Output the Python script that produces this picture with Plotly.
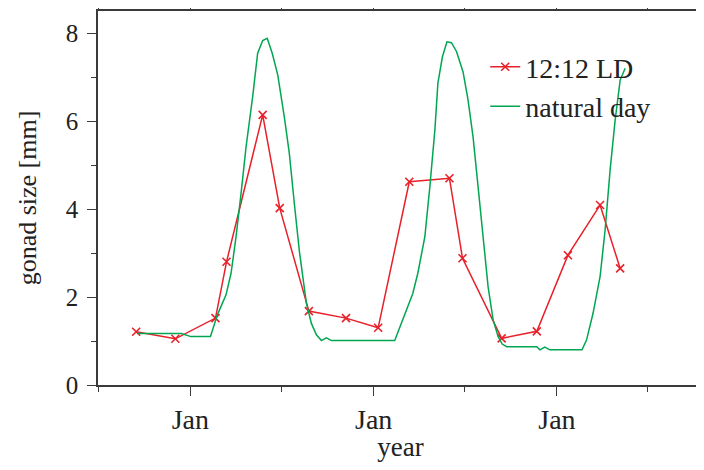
import plotly.graph_objects as go

# 12:12 LD (light-dark) sampled gonad size
ld_dates = [
    "2000-09-15", "2000-12-02", "2001-02-20", "2001-03-14", "2001-05-25",
    "2001-06-28", "2001-08-25", "2001-11-07", "2002-01-10", "2002-03-13",
    "2002-06-01", "2002-06-27", "2002-09-13", "2002-11-22", "2003-01-23",
    "2003-03-28", "2003-05-07",
]
ld_size = [
    1.21, 1.05, 1.52, 2.80, 6.14,
    4.02, 1.68, 1.52, 1.30, 4.62,
    4.70, 2.88, 1.06, 1.22, 2.95,
    4.09, 2.65,
]

# natural day gonad size
nat_dates = [
    "2000-09-17", "2000-12-14", "2001-01-02", "2001-02-10", "2001-02-24",
    "2001-03-13", "2001-03-23", "2001-04-02", "2001-04-12", "2001-04-22",
    "2001-05-05", "2001-05-15", "2001-05-25", "2001-06-03", "2001-06-13",
    "2001-06-24", "2001-07-07", "2001-07-17", "2001-07-27", "2001-08-06",
    "2001-08-20", "2001-08-30", "2001-09-09", "2001-09-19", "2001-09-29",
    "2001-10-09", "2002-02-12", "2002-02-28", "2002-03-20", "2002-03-30",
    "2002-04-13", "2002-04-23", "2002-05-03", "2002-05-09", "2002-05-18",
    "2002-05-27", "2002-06-05", "2002-06-15", "2002-06-28", "2002-07-08",
    "2002-07-18", "2002-07-28", "2002-08-07", "2002-08-17", "2002-08-27",
    "2002-09-06", "2002-09-14", "2002-09-23", "2002-11-22", "2002-11-28",
    "2002-12-08", "2002-12-18", "2003-02-20", "2003-03-01", "2003-03-14",
    "2003-03-28", "2003-04-07", "2003-04-17", "2003-04-27", "2003-05-07",
    "2003-05-17",
]
nat_size = [
    1.17, 1.17, 1.10, 1.10, 1.60,
    2.05, 2.54, 3.37, 4.36, 5.42,
    6.55, 7.54, 7.83, 7.88, 7.54,
    7.05, 6.10, 5.27, 4.13, 3.05,
    1.86, 1.40, 1.14, 1.01, 1.07,
    1.01, 1.01, 1.48, 2.08, 2.54,
    3.37, 4.51, 5.80, 6.86, 7.46,
    7.80, 7.78, 7.58, 7.12, 6.48,
    5.64, 4.51, 3.37, 2.23, 1.48,
    1.10, 0.93, 0.87, 0.87, 0.80,
    0.86, 0.80, 0.80, 1.02, 1.63,
    2.46, 3.52, 4.89, 6.02, 6.93,
    7.20,
]

jan_ticks = ["2001-01-01", "2002-01-01", "2003-01-01"]
jul_ticks = ["2000-07-01", "2001-07-01", "2002-07-01", "2003-07-01"]
x_range = ["2000-07-01", "2003-10-19"]

RED = "#e8202a"
GREEN = "#00a651"
AXIS = "#3a3a3a"
FONT = "Liberation Serif, Times New Roman, DejaVu Serif, serif"

fig = go.Figure()
fig.add_trace(
    go.Scatter(
        x=ld_dates,
        y=ld_size,
        name="12:12 LD",
        mode="lines+markers",
        line=dict(color=RED, width=1.5),
        marker=dict(symbol="x-thin", size=8, line=dict(color=RED, width=1.6)),
    )
)
fig.add_trace(
    go.Scatter(
        x=nat_dates,
        y=nat_size,
        name="natural day",
        mode="lines",
        line=dict(color=GREEN, width=1.5),
    )
)

# the page body has an 8px margin, so the figure is sized to fit inside it
fig.update_layout(
    width=696,
    height=454,
    margin=dict(l=90, r=1, t=3, b=77),
    paper_bgcolor="white",
    plot_bgcolor="white",
    font=dict(family=FONT, color="#222", size=24),
    showlegend=True,
    legend=dict(
        x=0.64,
        y=0.917,
        xanchor="left",
        yanchor="top",
        bgcolor="rgba(0,0,0,0)",
        font=dict(family=FONT, size=28, color="#222"),
        tracegroupgap=0,
    ),
)

fig.update_xaxes(
    range=x_range,
    type="date",
    automargin=False,
    tickmode="array",
    tickvals=jan_ticks,
    ticktext=["Jan"] * len(jan_ticks),
    ticks="outside",
    ticklen=9,
    tickwidth=1.3,
    tickcolor=AXIS,
    minor=dict(tickmode="array", tickvals=jul_ticks, ticks="outside",
               ticklen=5, tickwidth=1.3, tickcolor=AXIS),
    showline=True,
    linecolor=AXIS,
    linewidth=1.5,
    mirror="ticks",
    showgrid=False,
    zeroline=False,
    tickfont=dict(family=FONT, size=28),
    title=dict(text="year", font=dict(family=FONT, size=27), standoff=2),
)
fig.update_yaxes(
    range=[0, 8.5],
    automargin=False,
    tickmode="array",
    tickvals=[0, 2, 4, 6, 8],
    ticks="outside",
    ticklen=9,
    tickwidth=1.3,
    tickcolor=AXIS,
    minor=dict(tickmode="array", tickvals=[1, 3, 5, 7], ticks="outside",
               ticklen=5, tickwidth=1.3, tickcolor=AXIS),
    showline=True,
    linecolor=AXIS,
    linewidth=1.5,
    mirror=True,
    showgrid=False,
    zeroline=False,
    tickfont=dict(family=FONT, size=25),
    ticklabelstandoff=4,
    title=dict(text="gonad size [mm]", font=dict(family=FONT, size=26), standoff=22),
)

fig.write_html("out.html")
